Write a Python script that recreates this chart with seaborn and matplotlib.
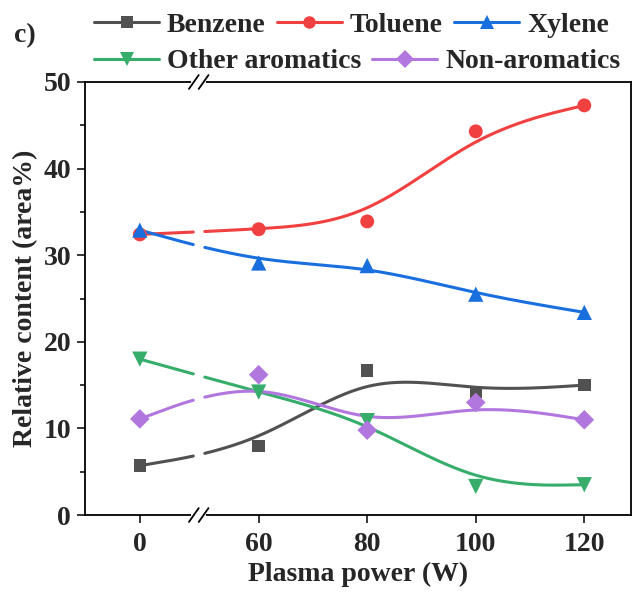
import numpy as np
import matplotlib
matplotlib.use("Agg")
import matplotlib.pyplot as plt
import matplotlib.transforms as mtransforms
from matplotlib.lines import Line2D
import seaborn as sns

# ---- data ----
power = [0, 60, 80, 100, 120]
tick_labels = ["0", "60", "80", "100", "120"]
benzene = [5.7, 8.0, 16.7, 14.2, 15.0]
toluene = [32.4, 33.0, 33.9, 44.3, 47.3]
xylene = [32.9, 29.1, 28.8, 25.5, 23.4]
other_arom = [18.0, 14.2, 10.9, 3.3, 3.5]
non_arom = [11.1, 16.2, 9.8, 13.0, 11.0]

series_names = ["Benzene", "Toluene", "Xylene", "Other aromatics", "Non-aromatics"]
series_vals = [benzene, toluene, xylene, other_arom, non_arom]
colors = ["#515151", "#F14040", "#1A6FDF", "#37AD6B", "#B177DE"]
markers = ["s", "o", "^", "v", "D"]
msizes = [9, 10, 11, 11, 10]

# broken x axis: 0 is placed closer to 60
ZERO_POS = 38.1
BREAK_POS = 48.95
def xpos(v):
    return ZERO_POS if v == 0 else float(v)

def bspline(px, py, n_per_seg=80):
    """Uniform cubic B-spline with tripled end control points."""
    P = np.column_stack([px, py]).astype(float)
    P = np.vstack([P[0], P[0], P, P[-1], P[-1]])
    t = np.linspace(0, 1, n_per_seg)
    b0 = (1 - t) ** 3 / 6
    b1 = (3 * t ** 3 - 6 * t ** 2 + 4) / 6
    b2 = (-3 * t ** 3 + 3 * t ** 2 + 3 * t + 1) / 6
    b3 = t ** 3 / 6
    pts = []
    for i in range(len(P) - 3):
        seg = (np.outer(b0, P[i]) + np.outer(b1, P[i + 1]) +
               np.outer(b2, P[i + 2]) + np.outer(b3, P[i + 3]))
        pts.append(seg)
    C = np.vstack(pts)
    return C[:, 0], C[:, 1]

sns.set_style("ticks")
plt.rcParams["font.family"] = ["Liberation Serif", "DejaVu Serif"]
plt.rcParams["font.weight"] = "bold"
plt.rcParams["axes.labelweight"] = "bold"

fig = plt.figure(figsize=(6.33, 5.92), dpi=100)
ax = fig.add_axes([0.1343, 0.130, 0.8625, 0.7315])

xs = [xpos(v) for v in power]
handles = []
for name, vals, c, mk, ms in zip(series_names, series_vals, colors, markers, msizes):
    cx, cy = bspline(xs, vals)
    cy = cy.copy()
    cy[(cx > BREAK_POS - 0.9) & (cx < BREAK_POS + 0.9)] = np.nan
    ax.plot(cx, cy, color=c, lw=2.2, zorder=2)
    sns.scatterplot(x=xs, y=vals, ax=ax, color=c, marker=mk, s=ms ** 2,
                    edgecolor="none", zorder=3, legend=False)
    handles.append(Line2D([], [], color=c, lw=2.2, marker=mk, markersize=ms * 0.9,
                          markeredgewidth=0, label=name))

ax.set_xlim(28.0, 128.6)
ax.set_ylim(0, 50)
ax.set_xticks(xs)
ax.set_xticklabels(tick_labels)
ax.set_yticks([0, 10, 20, 30, 40, 50])
ax.set_yticks([5, 15, 25, 35, 45], minor=True)
ax.tick_params(axis="both", which="major", direction="out", length=6, width=1.3,
               labelsize=20)
ax.tick_params(axis="x", which="major", pad=6)
ax.tick_params(axis="y", which="major", pad=4)
ax.tick_params(axis="y", which="minor", direction="out", length=3.5, width=1.3)
ax.tick_params(top=False, right=False)
for s in ax.spines.values():
    s.set_visible(True)
    s.set_linewidth(1.3)
    s.set_color("black")
for lab in ax.get_xticklabels() + ax.get_yticklabels():
    lab.set_fontweight("bold")

ax.set_xlabel("Plasma power (W)", fontsize=20, fontweight="bold", labelpad=4)
ax.set_ylabel("Relative content (area%)", fontsize=20, fontweight="bold", labelpad=4)

# axis-break marks on top and bottom spines
trans = mtransforms.blended_transform_factory(ax.transData, ax.transAxes)
for yb in (0.0, 1.0):
    ax.plot([BREAK_POS - 1.0, BREAK_POS + 1.0], [yb, yb], color="white", lw=3,
            transform=trans, clip_on=False, zorder=5)
    for dx in (-0.9, 0.9):
        ax.plot([BREAK_POS + dx - 0.9, BREAK_POS + dx + 0.9], [yb - 0.016, yb + 0.016],
                color="black", lw=1.3, transform=trans, clip_on=False, zorder=6)

leg_kw = dict(frameon=False, handlelength=2.34, handletextpad=0.29,
              columnspacing=0.4, borderpad=0, borderaxespad=0,
              prop={"weight": "bold", "size": 20})
l1 = fig.legend(handles=handles[:3], ncol=3, loc="center left",
                bbox_to_anchor=(0.1485, 0.958), **leg_kw)
l2 = fig.legend(handles=handles[3:], ncol=2, loc="center left",
                bbox_to_anchor=(0.1485, 0.896), **leg_kw)

fig.text(0.022, 0.940, "c)", fontsize=20, fontweight="bold", va="center", ha="left")

fig.savefig("out.png", dpi=100)
